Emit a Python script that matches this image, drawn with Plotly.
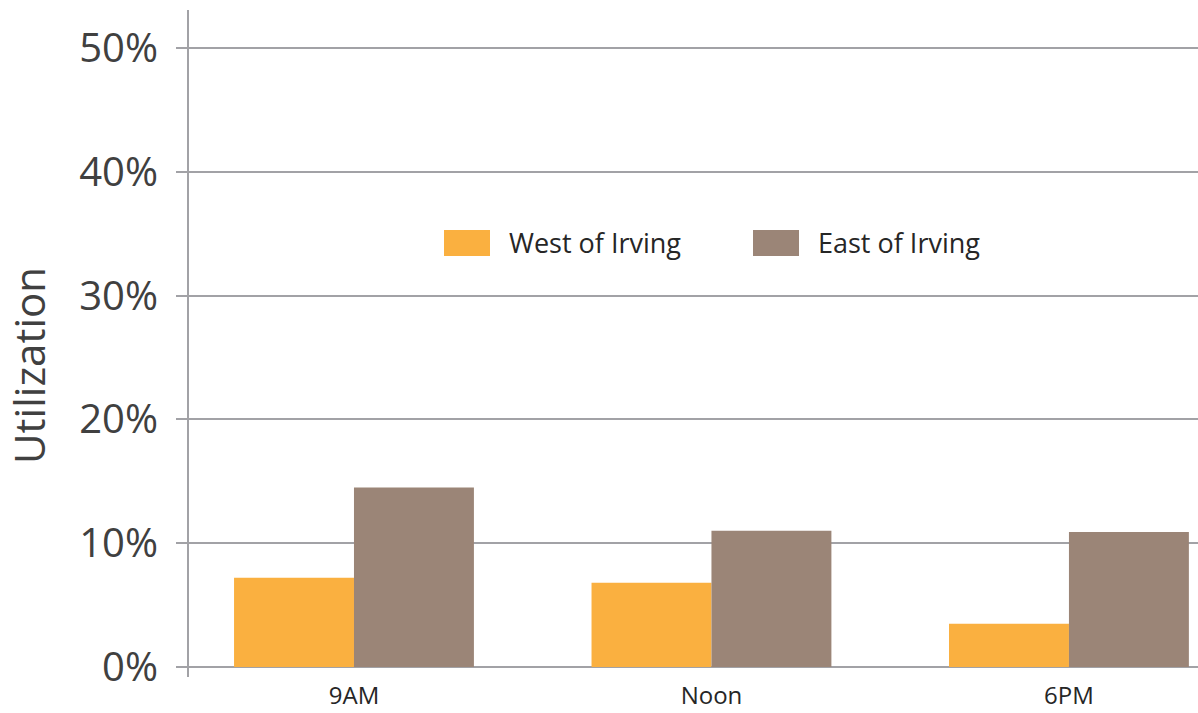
import plotly.graph_objects as go

categories = ["9AM", "Noon", "6PM"]
series_names = ["West of Irving", "East of Irving"]
west_values = [0.072, 0.068, 0.035]
east_values = [0.145, 0.110, 0.109]
series_colors = ["#FAB040", "#9B8577"]
y_tick_values = [0, 0.1, 0.2, 0.3, 0.4, 0.5]
y_tick_labels = ["0%", "10%", "20%", "30%", "40%", "50%"]
y_title = "Utilization"

W, H = 1198, 713
L, R, T, B = 189, 0, 10, 36
grid_color = "#A2A2A6"
font_family = "Open Sans"

fig = go.Figure()
for name, vals, color in zip(series_names, [west_values, east_values], series_colors):
    fig.add_trace(go.Bar(
        x=categories, y=vals, name=name,
        marker=dict(color=color, line=dict(width=0)),
        showlegend=False, hoverinfo="skip",
    ))

plot_w = W - L - R
plot_h = H - T - B

def px_x(px):
    return (px - L) / plot_w

def px_y(py):
    return (H - B - py) / plot_h

# custom legend (large swatches as in the reference)
legend_slots = [(444, 490, 507), (753, 799, 816)]
for (sx0, sx1, tx), name, color in zip(legend_slots, series_names, series_colors):
    fig.add_shape(type="rect", xref="paper", yref="paper",
                  x0=px_x(sx0), x1=px_x(sx1), y0=px_y(256), y1=px_y(230),
                  fillcolor=color, line=dict(width=0))
    fig.add_annotation(xref="paper", yref="paper", x=px_x(tx), y=px_y(243),
                       text=name, showarrow=False, xanchor="left", yanchor="middle",
                       font=dict(family=font_family, size=27, color="#262626"))

# y-axis title
fig.add_annotation(xref="paper", yref="paper", x=px_x(28), y=px_y(366),
                   text=y_title, textangle=-90, showarrow=False,
                   xanchor="center", yanchor="middle",
                   font=dict(family=font_family, size=42, color="#404040"))

fig.update_layout(
    width=W, height=H,
    margin=dict(l=L, r=R, t=T, b=B, pad=0, autoexpand=False),
    paper_bgcolor="white", plot_bgcolor="white",
    barmode="group", bargap=0.329, bargroupgap=0,
    font=dict(family=font_family),
    xaxis=dict(
        range=[-0.4615, 2.361], automargin=False,
        showgrid=False, showline=False, zeroline=False,
        ticks="", tickfont=dict(family=font_family, size=24, color="#262626"),
        ticklabelstandoff=2,
    ),
    yaxis=dict(
        range=[-0.0081, 0.5307], automargin=False,
        tickvals=y_tick_values, ticktext=y_tick_labels,
        tickfont=dict(family=font_family, size=40, color="#404040"),
        showgrid=True, gridcolor=grid_color, gridwidth=2,
        zeroline=True, zerolinecolor=grid_color, zerolinewidth=2,
        showline=True, linecolor=grid_color, linewidth=2,
        ticks="outside", ticklen=11, tickwidth=2, tickcolor=grid_color,
        ticklabelstandoff=10,
    ),
)

fig.write_html("out.html")
